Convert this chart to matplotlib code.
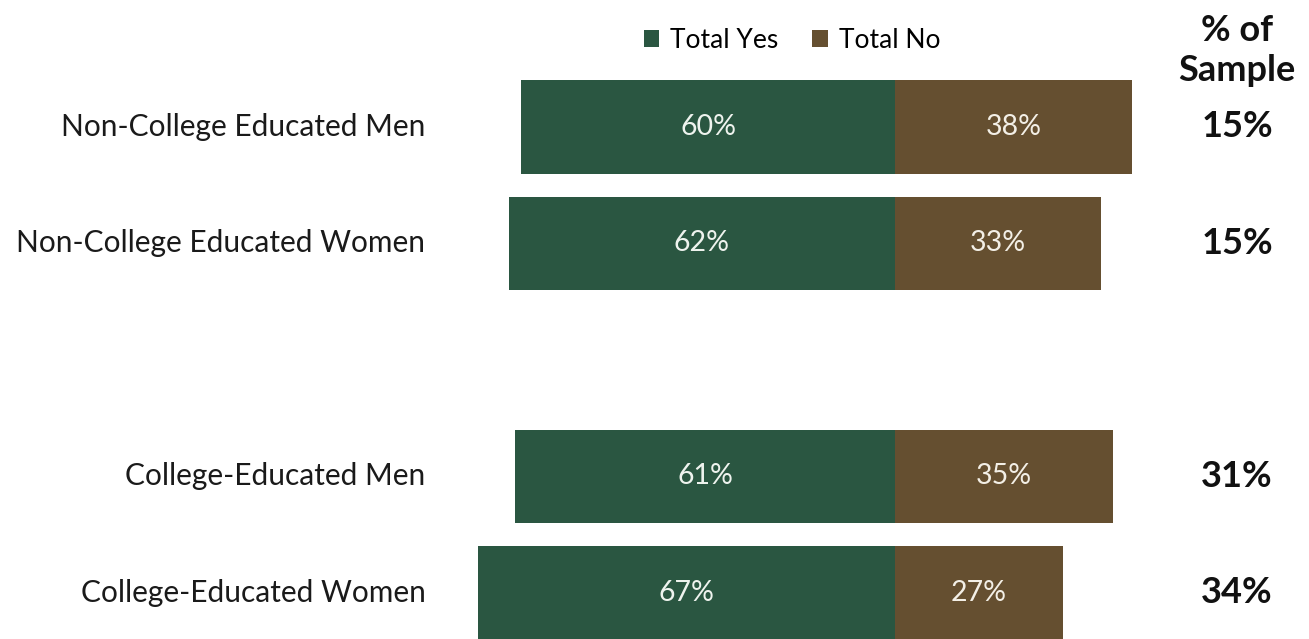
import matplotlib.pyplot as plt
import matplotlib.patches as patches

groups = ['Non-College Educated Men', 'Non-College Educated Women',
          'College-Educated Men', 'College-Educated Women']
positions = [0, 1, 3, 4]
total_yes = [60, 62, 61, 67]
total_no = [38, 33, 35, 27]
sample_share = ['15%', '15%', '31%', '34%']

green = '#2a5641'
brown = '#654f30'

plt.rcParams['font.family'] = ['Lato', 'DejaVu Sans']

fig = plt.figure(figsize=(13.09, 6.39), dpi=100)
ax = fig.add_axes([0, 0, 1, 1])

# yes bars go left from zero, no bars go right
ax.barh(positions, [-v for v in total_yes], height=0.8, color=green, label='Total Yes')
ax.barh(positions, total_no, height=0.8, color=brown, label='Total No')

for pos, yes, no in zip(positions, total_yes, total_no):
    ax.text(-yes / 2, pos, f'{yes}%', ha='center', va='center', color='#eef3ee', fontsize=20.5)
    ax.text(no / 2, pos, f'{no}%', ha='center', va='center', color='#f3efe6', fontsize=20.5)

trans = ax.get_yaxis_transform()
for pos, name in zip(positions, groups):
    ax.text(0.325, pos, name, transform=trans, ha='right', va='center', fontsize=21.5, color='#1a1a1a')

for pos, share in zip(positions, sample_share):
    ax.text(0.945, pos, share, transform=trans, ha='center', va='center',
            fontsize=26, fontweight='bold', color='#111111')
ax.text(0.945, 0.953, '% of', transform=ax.transAxes, ha='center', va='center',
        fontsize=26, fontweight='bold', color='#111111')
ax.text(0.945, 0.89, 'Sample', transform=ax.transAxes, ha='center', va='center',
        fontsize=26, fontweight='bold', color='#111111')

ax.legend(loc='center', bbox_to_anchor=(0.605, 0.937), ncol=2, frameon=False,
          fontsize=19, handlelength=0.6, handleheight=0.6, handletextpad=0.4,
          columnspacing=1.3)

ax.set_xlim(-895 / 6.23, (1309 - 895) / 6.23)
ax.set_ylim(4.395, -1.09)
ax.axis('off')

fig.savefig('out.png', dpi=100)
